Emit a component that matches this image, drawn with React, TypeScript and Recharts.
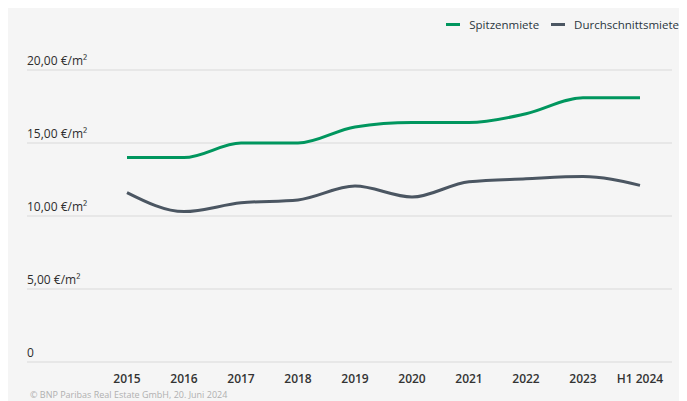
import React from "react";
import { LineChart, Line, XAxis, YAxis, CartesianGrid } from "recharts";

const YEARS = ["2015", "2016", "2017", "2018", "2019", "2020", "2021", "2022", "2023", "H1 2024"];
const SPITZENMIETE = [14.0, 14.0, 15.0, 15.0, 16.1, 16.4, 16.4, 17.0, 18.1, 18.1];
const DURCHSCHNITTSMIETE = [11.6, 10.3, 10.9, 11.1, 12.05, 11.3, 12.35, 12.55, 12.7, 12.1];
const Y_TICKS = [0, 5, 10, 15, 20];
const Y_LABELS = ["0", "5,00 €/m²", "10,00 €/m²", "15,00 €/m²", "20,00 €/m²"];

const GREEN = "#00965e";
const GREY = "#4b5662";
const FONT = "'Open Sans', sans-serif";

const data = YEARS.map((year, i) => ({
  year,
  spitzen: SPITZENMIETE[i],
  durchschnitt: DURCHSCHNITTSMIETE[i],
}));

function renderYTick(props: any) {
  const { y, payload } = props;
  const idx = Y_TICKS.indexOf(Number(payload.value));
  return (
    <text key={payload.value} x={19} y={y - 5} textAnchor="start" fontSize={12} fill="#2d2d2d" fontFamily={FONT}>
      {Y_LABELS[idx]}
    </text>
  );
}

function renderXTick(props: any) {
  const { x, y, payload } = props;
  return (
    <text key={payload.value} x={x} y={y + 8} textAnchor="middle" dominantBaseline="central" fontSize={12} fontWeight={600} fill="#333" fontFamily={FONT}>
      {payload.value}
    </text>
  );
}

function LegendItem({ color, label }: { color: string; label: string }) {
  return (
    <div style={{ display: "flex", alignItems: "center", marginLeft: 12 }}>
      <div style={{ width: 14, height: 3, background: color, marginRight: 9 }} />
      <span>{label}</span>
    </div>
  );
}

export default function App() {
  return (
    <div style={{ position: "relative", width: 679, height: 393, background: "#f5f5f5", fontFamily: FONT, overflow: "hidden" }}>
      <div style={{ position: "absolute", top: 9, right: 8, display: "flex", fontSize: 11.5, color: "#2a3540" }}>
        <LegendItem color={GREEN} label="Spitzenmiete" />
        <LegendItem color={GREY} label="Durchschnittsmiete" />
      </div>
      <LineChart width={679} height={385} data={data} margin={{ top: 62, right: 15, left: 18, bottom: 0 }}>
        <CartesianGrid horizontal vertical={false} stroke="#d9d9d9" />
        <XAxis
          dataKey="year"
          axisLine={false}
          tickLine={false}
          height={31}
          padding={{ left: 100, right: 32 }}
          tick={renderXTick}
          interval={0}
        />
        <YAxis
          domain={[0, 20]}
          ticks={Y_TICKS}
          width={1}
          axisLine={false}
          tickLine={false}
          tick={renderYTick}
          interval={0}
        />
        <Line type="monotone" dataKey="spitzen" stroke={GREEN} strokeWidth={3} dot={false} isAnimationActive={false} />
        <Line type="monotone" dataKey="durchschnitt" stroke={GREY} strokeWidth={3} dot={false} isAnimationActive={false} />
      </LineChart>
      <div style={{ position: "absolute", left: 22, top: 380, fontSize: 9, color: "#b0b0b0", whiteSpace: "nowrap" }}>
        © BNP Paribas Real Estate GmbH, 20. Juni 2024
      </div>
    </div>
  );
}
